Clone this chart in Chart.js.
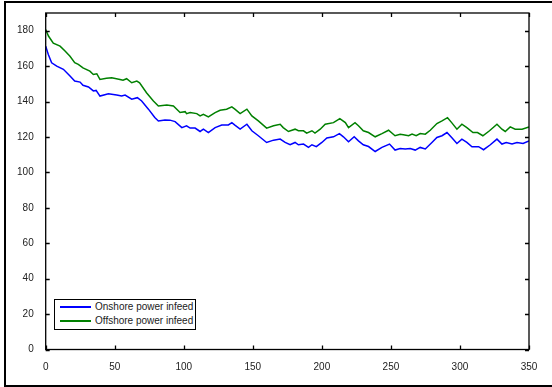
<!DOCTYPE html>
<html>
<head>
<meta charset="utf-8">
<script src="https://cdn.jsdelivr.net/npm/chart.js@4"></script>
<style>
  html, body { margin: 0; padding: 0; background: #fff; }
  body { width: 552px; height: 387px; position: relative; overflow: hidden; }
  #frame {
    position: absolute; left: 4px; top: 1px; width: 600px; height: 382px;
    border-left: 2px solid #000; border-top: 2px solid #000; border-bottom: 2px solid #000;
  }
  #wrap { position: absolute; left: 0; top: 0; width: 552px; height: 387px; }
  #legend {
    position: absolute; left: 54px; top: 299px; width: 140px; height: 29px;
    border: 1px solid #000; background: #fff;
    font: 10px "Liberation Sans", Arial, sans-serif; color: #222;
  }
  .row { position: absolute; left: 0; height: 12px; line-height: 12px; }
  .row i { position: absolute; left: 5px; top: 5px; width: 31px; height: 2px; }
  .row span { position: absolute; left: 40px; top: 0; white-space: nowrap; }
</style>
</head>
<body>
<div id="frame"></div>
<div id="wrap"><canvas id="chart"></canvas></div>
<div id="legend">
  <div class="row" style="top:1px"><i style="background:#0000ff"></i><span>Onshore power infeed</span></div>
  <div class="row" style="top:15px"><i style="background:#008000"></i><span>Offshore power infeed</span></div>
</div>
<script>
const xTicks = [0, 50, 100, 150, 200, 250, 300, 350];
const yTicks = [0, 20, 40, 60, 80, 100, 120, 140, 160, 180];

const onshoreX = [0, 1.9, 4.3, 8, 12.8, 17.6, 21, 24.9, 27, 31, 34.5, 36.5, 39.3, 45.4, 51.4, 55, 57.5, 62.3, 66.4, 69.5,
  74.4, 79, 81.6, 86.4, 90, 93.7, 98.6, 102, 104.6, 108.2, 111.8, 114.2, 117.8, 122.7, 127.5, 132.3, 134.8, 137, 140.8, 145.7,
  149.3, 154, 160, 165, 169.8, 173.4, 177, 180.6, 183, 186.7, 190.3, 192.8, 196, 200, 203.6, 208.4, 212.7, 215.6, 219.3, 223.4,
  226.5, 230, 233.8, 238.6, 243.5, 249, 253, 256.7, 260.4, 264, 267.6, 271.2, 274.9, 279.7, 283.3, 287, 290.6, 294, 297.8, 301.4,
  305, 308.7, 313.5, 317.1, 322, 326.8, 330.4, 333.5, 337.7, 341.3, 345.7, 350];
const onshoreY = [171.3, 166.6, 161.9, 160, 158.2, 154.4, 151.6, 151, 149.2, 148.2, 146, 146.3, 143.1, 144.4, 143.7, 143.1, 143.7, 141.3, 142.2, 140.3,
  135.7, 131, 129, 129.6, 129.5, 128.7, 125.3, 126.3, 125, 125, 123.1, 124.4, 122.5, 125.3, 126.7, 126.8, 128.1, 126.7, 124.4, 127.2,
  123.5, 120.7, 116.9, 118.2, 118.8, 116.9, 115.6, 116.9, 115.6, 116, 114.1, 115.6, 114.5, 116.9, 119.4, 120.1, 121.9, 120.1, 117.3, 120.1,
  117.8, 115.6, 114.6, 111.8, 114.1, 116, 112.6, 113.5, 113.2, 113.5, 112.6, 114.1, 113.2, 116.9, 119.7, 120.7, 122.5, 119.7, 116.3, 118.8,
  116.9, 114.5, 114.5, 112.8, 115.6, 118.8, 116, 116.9, 116, 116.9, 116.3, 117.8];

const offshoreX = [0, 2, 5.5, 10.4, 14, 17.6, 21, 23.6, 27, 32, 34.5, 37, 39.3, 44, 47.8, 53.8, 56, 58.6, 62.3, 66,
  68, 73, 78, 81.6, 87.7, 92.5, 97.3, 101, 102, 104.6, 109.4, 111.8, 114.2, 117.8, 122.7, 126.3, 131, 134.8, 137, 140.8,
  145.7, 149.3, 154, 160, 165, 169.8, 172, 175.8, 180.6, 183, 186.7, 189, 192.8, 195, 198.8, 202.4, 208.4, 213, 217, 219.3,
  224, 226.5, 230, 233.8, 238.6, 243.5, 248.3, 253, 256.7, 259, 262.8, 265.3, 268.3, 271.2, 274.9, 278.5, 283.3, 287, 291, 294,
  297.8, 301.4, 305, 309.4, 312.7, 316.6, 321.4, 326.8, 330.4, 332.8, 336.4, 340, 345, 350];
const offshoreY = [180.7, 177, 173, 171.3, 168.5, 165.6, 161.9, 161, 159, 157.2, 155.3, 155.7, 152.5, 153.1, 153.4, 152.5, 152, 152.9, 150.6, 151.6,
  150.6, 145, 140.3, 137.5, 138, 137.5, 133.8, 134.3, 133.2, 133.8, 133.2, 131.9, 132.8, 131.3, 133.8, 135.1, 135.7, 137, 135.7, 133.2,
  135.7, 131.9, 129.1, 125, 126.3, 127.2, 125.3, 123.1, 124.4, 123.5, 123.5, 122.2, 123.5, 122.2, 124.4, 127.2, 128.1, 130.4, 128.1, 125.3,
  128.1, 126.3, 123.5, 122.5, 120.1, 121.9, 123.8, 120.7, 121.5, 121.2, 120.7, 121.6, 120.7, 121.9, 121.6, 123.8, 127.6, 129.1, 130.9, 128.1,
  124.4, 127.2, 125.3, 122.5, 122.5, 120.7, 123.5, 127.2, 124.4, 123.1, 125.7, 124.4, 124.4, 125.7];

function pairs(xs, ys) {
  return xs.map((x, i) => ({ x: x, y: ys[i] }));
}

// matlab style box with inward ticks on all four sides
const boxPlugin = {
  id: "box",
  afterDatasetsDraw(chart) {
    const { ctx, chartArea: a, scales } = chart;
    const len = 4;
    ctx.save();
    ctx.strokeStyle = "#000";
    ctx.lineWidth = 1.3;
    ctx.beginPath();
    xTicks.forEach((v) => {
      const px = Math.round(scales.x.getPixelForValue(v)) + 0.5;
      ctx.moveTo(px, a.bottom); ctx.lineTo(px, a.bottom - len);
      ctx.moveTo(px, a.top); ctx.lineTo(px, a.top + len);
    });
    yTicks.forEach((v) => {
      const py = Math.round(scales.y.getPixelForValue(v)) + 0.5;
      ctx.moveTo(a.left, py); ctx.lineTo(a.left + len, py);
      ctx.moveTo(a.right, py); ctx.lineTo(a.right - len, py);
    });
    ctx.stroke();
    ctx.strokeRect(a.left, a.top, a.right - a.left, a.bottom - a.top);
    ctx.restore();
  },
};

const tickFont = { family: "'Liberation Sans', Arial, sans-serif", size: 10 };

new Chart(document.getElementById("chart"), {
  type: "line",
  data: {
    datasets: [
      { label: "Onshore power infeed", data: pairs(onshoreX, onshoreY), borderColor: "#0000ff", borderWidth: 1.5, pointRadius: 0, tension: 0 },
      { label: "Offshore power infeed", data: pairs(offshoreX, offshoreY), borderColor: "#008000", borderWidth: 1.5, pointRadius: 0, tension: 0 },
    ],
  },
  options: {
    responsive: true,
    maintainAspectRatio: false,
    animation: false,
    layout: { padding: { left: 4, top: 13, right: 23, bottom: 4 } },
    plugins: { legend: { display: false }, tooltip: { enabled: false } },
    scales: {
      x: {
        type: "linear",
        min: 0,
        max: 350,
        afterBuildTicks: (s) => { s.ticks = xTicks.map((v) => ({ value: v })); },
        afterFit: (s) => { s.height = 33.5; },
        grid: { display: false },
        border: { display: false },
        ticks: { color: "#222", font: tickFont, padding: 4, maxRotation: 0 },
      },
      y: {
        min: 0,
        max: 190,
        afterBuildTicks: (s) => { s.ticks = yTicks.map((v) => ({ value: v })); },
        afterFit: (s) => { s.width = 41.7; },
        grid: { display: false },
        border: { display: false },
        ticks: { color: "#222", font: tickFont, padding: 4 },
      },
    },
  },
  plugins: [boxPlugin],
});
</script>
</body>
</html>
